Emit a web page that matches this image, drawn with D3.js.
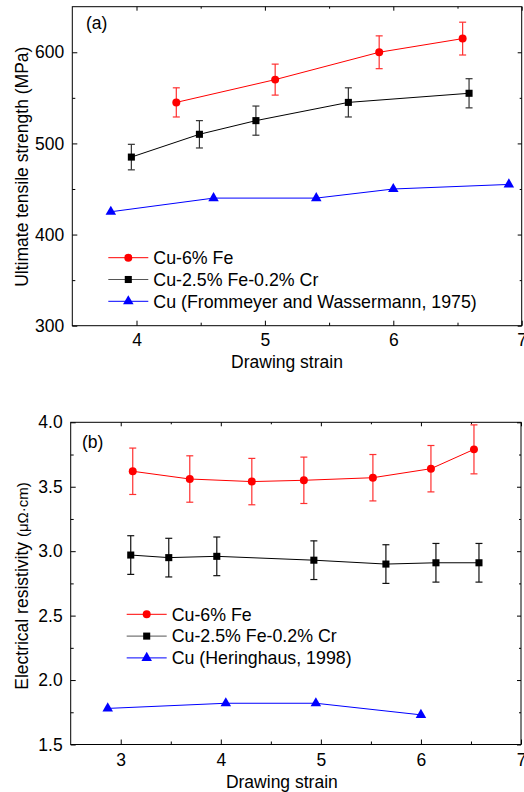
<!DOCTYPE html>
<html>
<head>
<meta charset="utf-8">
<script src="https://cdn.jsdelivr.net/npm/d3@7"></script>
<style>
  body { margin: 0; background: #fff; }
  svg text { font-family: "Liberation Sans", Arial, sans-serif; }
</style>
</head>
<body>
<svg id="chart" width="524" height="792"></svg>
<script>
// panel (a): ultimate tensile strength
const strainA_fe6 = [4.31, 5.08, 5.89, 6.54];
const utsA_fe6 = [545, 570, 600, 615];
const errA_fe6 = [16, 17, 18, 18];
const strainA_fecr = [3.96, 4.49, 4.93, 5.65, 6.59];
const utsA_fecr = [485, 510, 525, 545, 555];
const errA_fecr = [14, 15, 16, 16, 16];
const strainA_cu = [3.8, 4.6, 5.4, 6.0, 6.9];
const utsA_cu = [425, 440, 440, 450, 455];

// panel (b): electrical resistivity
const strainB_fe6 = [3.12, 3.69, 4.31, 4.83, 5.52, 6.1, 6.53];
const resB_fe6 = [3.62, 3.56, 3.54, 3.55, 3.57, 3.64, 3.79];
const errB_fe6 = [0.18, 0.18, 0.18, 0.18, 0.18, 0.18, 0.19];
const strainB_fecr = [3.1, 3.48, 3.96, 4.93, 5.65, 6.15, 6.58];
const resB_fecr = [2.97, 2.95, 2.96, 2.93, 2.9, 2.91, 2.91];
const errB_fecr = [0.15, 0.15, 0.15, 0.15, 0.15, 0.15, 0.15];
const strainB_cu = [2.87, 4.05, 4.95, 6.0];
const resB_cu = [1.78, 1.82, 1.82, 1.73];

const legendA = ["Cu-6% Fe", "Cu-2.5% Fe-0.2% Cr", "Cu (Frommeyer and Wassermann, 1975)"];
const legendB = ["Cu-6% Fe", "Cu-2.5% Fe-0.2% Cr", "Cu (Heringhaus, 1998)"];

const svg = d3.select("#chart");
const FS = 17.5;
const LEG_FS = 17.8;

function series(xs, ys, es) {
  return xs.map((x, i) => ({ x: x, y: ys[i], e: es ? es[i] : null }));
}

function drawPanel(p) {
  const g = svg.append("g");
  const x = d3.scaleLinear().domain(p.xDomain).range([p.left, p.right]);
  const y = d3.scaleLinear().domain(p.yDomain).range([p.bottom, p.top]);

  // osie - glowne i pomocnicze ticki do srodka
  g.append("g").attr("transform", `translate(0,${p.bottom})`)
    .call(d3.axisBottom(x).tickValues(p.xTicks).tickSizeInner(-5).tickSizeOuter(0).tickPadding(p.xPad).tickFormat(d3.format("d")));
  g.append("g").attr("transform", `translate(0,${p.bottom})`)
    .call(d3.axisBottom(x).tickValues(p.xMinor).tickSizeInner(-3).tickSizeOuter(0).tickFormat(""));
  g.append("g").attr("transform", `translate(0,${p.top})`)
    .call(d3.axisTop(x).tickValues(p.xTicks).tickSizeInner(-4).tickSizeOuter(0).tickFormat(""));
  g.append("g").attr("transform", `translate(0,${p.top})`)
    .call(d3.axisTop(x).tickValues(p.xMinor).tickSizeInner(-2).tickSizeOuter(0).tickFormat(""));
  g.append("g").attr("transform", `translate(${p.left},0)`)
    .call(d3.axisLeft(y).tickValues(p.yTicks).tickSizeInner(-5).tickSizeOuter(0).tickPadding(8).tickFormat(p.yFmt));
  g.append("g").attr("transform", `translate(${p.left},0)`)
    .call(d3.axisLeft(y).tickValues(p.yMinor).tickSizeInner(-3).tickSizeOuter(0).tickFormat(""));
  g.append("g").attr("transform", `translate(${p.right},0)`)
    .call(d3.axisRight(y).tickValues(p.yTicks).tickSizeInner(-4).tickSizeOuter(0).tickFormat(""));
  g.append("g").attr("transform", `translate(${p.right},0)`)
    .call(d3.axisRight(y).tickValues(p.yMinor).tickSizeInner(-2).tickSizeOuter(0).tickFormat(""));

  g.selectAll(".domain").remove();
  g.selectAll(".tick text").attr("font-size", FS).attr("fill", "#000")
    .style("font-family", '"Liberation Sans", Arial, sans-serif');
  g.selectAll(".tick line").attr("stroke", "#000");

  g.append("rect")
    .attr("x", p.left).attr("y", p.top)
    .attr("width", p.right - p.left).attr("height", p.bottom - p.top)
    .attr("fill", "none").attr("stroke", "#000").attr("stroke-width", 1);

  // serie danych
  const line = d3.line().x(d => x(d.x)).y(d => y(d.y));
  p.series.forEach(s => {
    g.append("path").datum(s.data)
      .attr("d", line).attr("fill", "none").attr("stroke", s.color).attr("stroke-width", 1);
    const withErr = s.data.filter(d => d.e != null);
    const eb = g.append("g").attr("stroke", s.errColor).attr("stroke-width", 1.2);
    withErr.forEach(d => {
      eb.append("line").attr("x1", x(d.x)).attr("x2", x(d.x))
        .attr("y1", y(d.y - d.e)).attr("y2", y(d.y + d.e));
      [d.y - d.e, d.y + d.e].forEach(v => {
        eb.append("line").attr("x1", x(d.x) - 3.5).attr("x2", x(d.x) + 3.5)
          .attr("y1", y(v)).attr("y2", y(v));
      });
    });
    g.selectAll(null).data(s.data).join("path")
      .attr("transform", d => `translate(${x(d.x)},${y(d.y)})`)
      .attr("d", d3.symbol().type(s.symbol).size(s.size))
      .attr("fill", s.color);
  });

  // legenda
  p.series.forEach((s, i) => {
    const ly = p.legY + i * 21.8;
    g.append("line").attr("x1", p.legX).attr("x2", p.legX + 40)
      .attr("y1", ly).attr("y2", ly).attr("stroke", s.legColor || s.color).attr("stroke-width", 1);
    g.append("path").attr("transform", `translate(${p.legX + 20},${ly})`)
      .attr("d", d3.symbol().type(s.symbol).size(s.size)).attr("fill", s.color);
    g.append("text").attr("x", p.legX + 45).attr("y", ly).attr("dy", "0.35em")
      .attr("font-size", LEG_FS).text(p.legend[i]);
  });

  g.append("text").attr("x", p.tagX).attr("y", p.tagY).attr("dy", "0.35em")
    .attr("text-anchor", "middle").attr("font-size", FS).text(p.tag);

  g.append("text").attr("x", (p.left + p.right) / 2 + p.xTitleShift).attr("y", p.xTitleY)
    .attr("dy", "0.35em").attr("text-anchor", "middle").attr("font-size", FS).text("Drawing strain");

  const yt = g.append("text").attr("transform", `translate(22,${p.yTitleY}) rotate(-90)`)
    .attr("dy", "0.35em").attr("text-anchor", "middle").attr("font-size", FS);
  p.yTitle(yt);
}

drawPanel({
  left: 72.3, right: 521.7, top: 6.7, bottom: 325.7,
  xDomain: [3.5, 7], yDomain: [300, 650],
  xTicks: [4, 5, 6, 7], xMinor: [4.5, 5.5, 6.5],
  yTicks: [300, 400, 500, 600], yMinor: [350, 450, 550],
  yFmt: d3.format("d"), xPad: 8,
  series: [
    { data: series(strainA_fe6, utsA_fe6, errA_fe6), color: "#ff0000", errColor: "#ff3030", symbol: d3.symbolCircle, size: 50 },
    { data: series(strainA_fecr, utsA_fecr, errA_fecr), color: "#000000", errColor: "#333333", legColor: "#555", symbol: d3.symbolSquare, size: 50 },
    { data: series(strainA_cu, utsA_cu, null), color: "#0000ff", errColor: "#0000ff", symbol: d3.symbolTriangle, size: 48 }
  ],
  legend: legendA, legX: 108.3, legY: 257.7,
  tag: "(a)", tagX: 96.7, tagY: 23.3,
  xTitleY: 361.7, xTitleShift: -10, yTitleY: 166.7,
  yTitle: t => t.text("Ultimate tensile strength (MPa)")
});

drawPanel({
  left: 70.7, right: 521, top: 422.3, bottom: 744.5,
  xDomain: [2.5, 7], yDomain: [1.5, 4.0],
  xTicks: [3, 4, 5, 6, 7], xMinor: [3.5, 4.5, 5.5, 6.5],
  yTicks: [1.5, 2.0, 2.5, 3.0, 3.5, 4.0], yMinor: [1.75, 2.25, 2.75, 3.25, 3.75],
  yFmt: d3.format(".1f"), xPad: 9,
  series: [
    { data: series(strainB_fe6, resB_fe6, errB_fe6), color: "#ff0000", errColor: "#ff3030", symbol: d3.symbolCircle, size: 50 },
    { data: series(strainB_fecr, resB_fecr, errB_fecr), color: "#000000", errColor: "#111111", legColor: "#555", symbol: d3.symbolSquare, size: 50 },
    { data: series(strainB_cu, resB_cu, null), color: "#0000ff", errColor: "#0000ff", symbol: d3.symbolTriangle, size: 48 }
  ],
  legend: legendB, legX: 126.7, legY: 614.3,
  tag: "(b)", tagX: 92.7, tagY: 441.7,
  xTitleY: 781.7, xTitleShift: -14, yTitleY: 586,
  yTitle: t => {
    t.append("tspan").text("Electrical resistivity ");
    t.append("tspan").attr("font-size", 15).text("(μΩ·cm)");
  }
});
</script>
</body>
</html>
